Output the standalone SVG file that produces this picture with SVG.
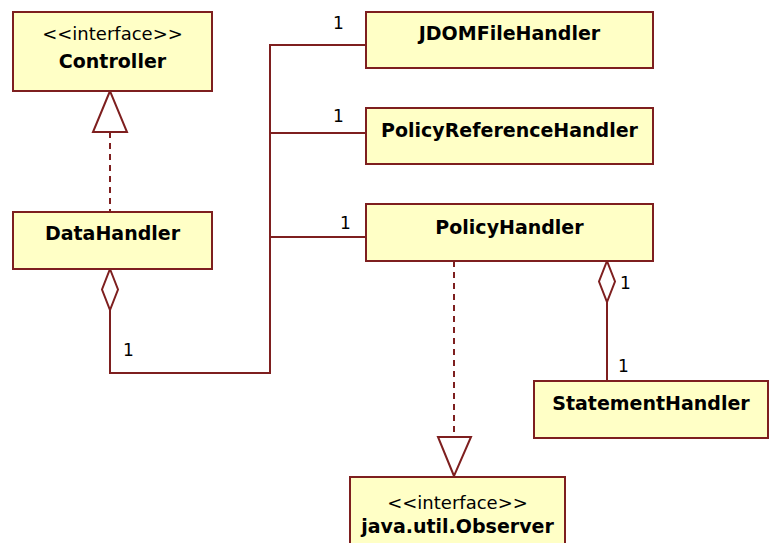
<svg xmlns="http://www.w3.org/2000/svg" width="770" height="543" viewBox="0 0 770 543">
  <style>
    .box { fill: #FFFFC6; stroke: #7E1F1F; stroke-width: 2; }
    .line { fill: none; stroke: #7E1F1F; stroke-width: 2; }
    .dash { fill: none; stroke: #7E1F1F; stroke-width: 2; stroke-dasharray: 6 5; }
    .head { fill: #FFFFFF; stroke: #7E1F1F; stroke-width: 2; }
    .name { font-family: "DejaVu Sans", Verdana, sans-serif; font-weight: bold; font-size: 19px; fill: #000; text-anchor: middle; }
    .stereo { font-family: "DejaVu Sans", Verdana, sans-serif; font-size: 18px; fill: #000; text-anchor: middle; }
    .mult { font-family: "DejaVu Sans", Verdana, sans-serif; font-size: 17px; fill: #000; }
  </style>
  <rect width="770" height="543" fill="#FFFFFF"/>

  <g id="connectors">
    <!-- realization DataHandler -> Controller -->
    <line class="dash" x1="110" y1="132" x2="110" y2="212"/>
    <polygon class="head" points="110,91 93,132 127,132"/>
    <!-- aggregation DataHandler -> handlers bus -->
    <polyline class="line" points="110,310 110,373 270,373 270,45 366,45"/>
    <line class="line" x1="270" y1="133" x2="366" y2="133"/>
    <line class="line" x1="270" y1="237" x2="366" y2="237"/>
    <polygon class="head" points="110,269 118,289.5 110,310 102,289.5"/>
    <!-- aggregation PolicyHandler -> StatementHandler -->
    <line class="line" x1="607" y1="302" x2="607" y2="381"/>
    <polygon class="head" points="607,261 615,281.5 607,302 599,281.5"/>
    <!-- realization PolicyHandler -> Observer -->
    <line class="dash" x1="454" y1="261" x2="454" y2="437"/>
    <polygon class="head" points="454,476 438,437 471,437"/>
    <!-- multiplicities -->
    <text class="mult" x="333" y="29">1</text>
    <text class="mult" x="333" y="122">1</text>
    <text class="mult" x="340" y="229">1</text>
    <text class="mult" x="123" y="356">1</text>
    <text class="mult" x="620" y="289">1</text>
    <text class="mult" x="618" y="372">1</text>
  </g>

  <g id="controller">
    <rect class="box" x="13" y="12" width="199" height="79"/>
    <text class="stereo" x="112.5" y="40">&lt;&lt;interface&gt;&gt;</text>
    <text class="name" x="112.5" y="68">Controller</text>
  </g>

  <g id="datahandler">
    <rect class="box" x="13" y="212" width="199" height="57"/>
    <text class="name" x="112.5" y="240">DataHandler</text>
  </g>

  <g id="jdomfilehandler">
    <rect class="box" x="366" y="12" width="287" height="56"/>
    <text class="name" x="509.5" y="40">JDOMFileHandler</text>
  </g>

  <g id="policyreferencehandler">
    <rect class="box" x="366" y="108" width="287" height="56"/>
    <text class="name" x="509.5" y="137">PolicyReferenceHandler</text>
  </g>

  <g id="policyhandler">
    <rect class="box" x="366" y="204" width="287" height="57"/>
    <text class="name" x="509.5" y="234">PolicyHandler</text>
  </g>

  <g id="statementhandler">
    <rect class="box" x="534" y="381" width="234" height="57"/>
    <text class="name" x="651" y="410">StatementHandler</text>
  </g>

  <g id="observer">
    <rect class="box" x="350" y="477" width="215" height="80"/>
    <text class="stereo" x="457.5" y="509">&lt;&lt;interface&gt;&gt;</text>
    <text class="name" x="457.5" y="533">java.util.Observer</text>
  </g>
</svg>
